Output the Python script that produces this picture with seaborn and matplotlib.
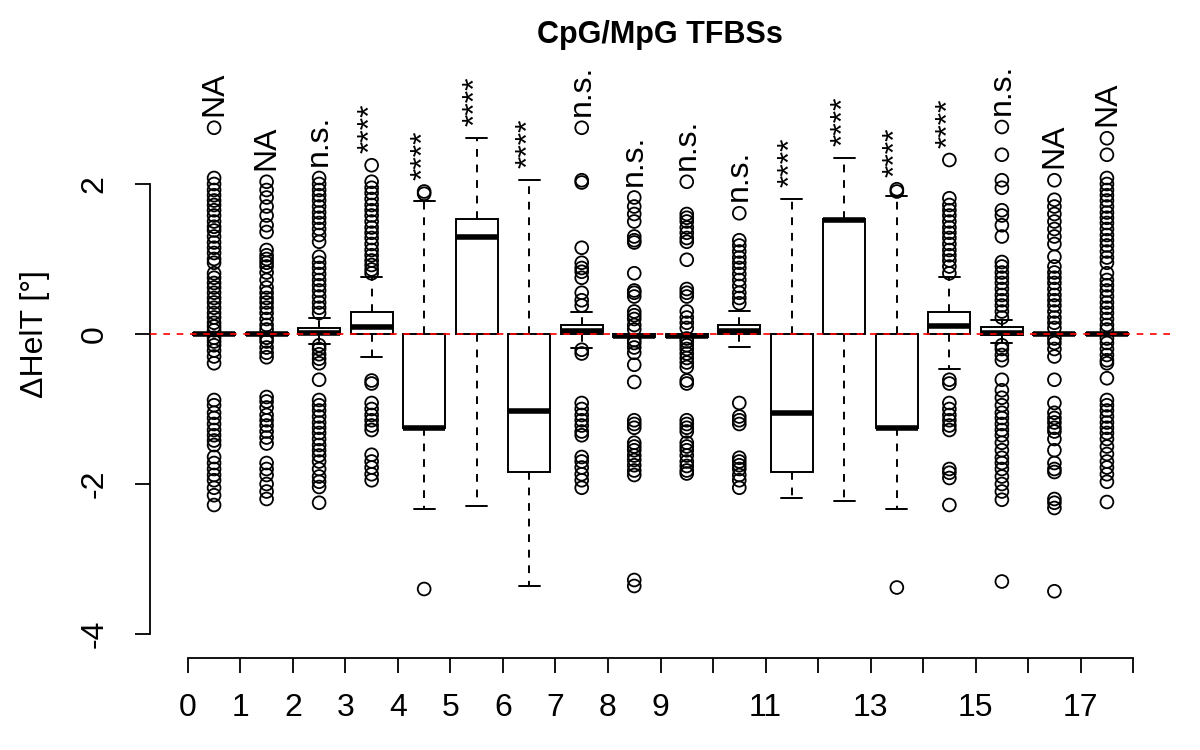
import numpy as np
import pandas as pd
import matplotlib
matplotlib.use("Agg")
import matplotlib.pyplot as plt
import seaborn as sns

# box statistics per group (lower whisker, q1, median, q3, upper whisker)
whisk_lo = [-0.01, -0.01, -0.13, -0.30, -2.33, -2.30, -3.36, -0.18, -0.04,
            -0.04, -0.17, -2.18, -2.22, -2.34, -0.47, -0.12, -0.01, -0.01]
q1 = [-0.01, -0.01, -0.005, 0.0, -1.25, 0.0, -1.84, 0.0, -0.04,
      -0.04, 0.0, -1.84, 0.0, -1.25, 0.0, -0.01, -0.01, -0.01]
medians = [0.0, 0.0, 0.01, 0.10, -1.25, 1.29, -1.03, 0.04, -0.02,
           -0.02, 0.04, -1.05, 1.52, -1.25, 0.11, 0.02, 0.0, 0.0]
q3 = [0.01, 0.01, 0.08, 0.30, 0.0, 1.54, 0.0, 0.12, 0.0,
      0.0, 0.12, 0.0, 1.54, 0.0, 0.30, 0.09, 0.01, 0.01]
whisk_hi = [0.01, 0.01, 0.21, 0.76, 1.77, 2.61, 2.06, 0.30, 0.0,
            0.0, 0.31, 1.80, 2.35, 1.84, 0.76, 0.19, 0.01, 0.01]

# outliers per group
outliers = [
    [2.75, 2.08, 2.0, 1.92, 1.85, 1.78, 1.72, 1.65, 1.58, 1.5, 1.43, 1.38, 1.3, 1.22,
     1.15, 1.08, 1.0, 0.95, 0.81, 0.75, 0.68, 0.62, 0.55, 0.48, 0.42, 0.35, 0.28, 0.22,
     0.15, 0.1, 0.05, -0.05, -0.1, -0.15, -0.22, -0.3, -0.39, -0.88, -0.95, -1.05,
     -1.12, -1.2, -1.28, -1.35, -1.42, -1.48, -1.64, -1.72, -1.8, -1.88, -1.95, -2.05,
     -2.15, -2.28],
    [2.03, 1.92, 1.82, 1.7, 1.58, 1.45, 1.36, 1.12, 1.05, 1.0, 0.95, 0.9, 0.82, 0.72,
     0.62, 0.55, 0.48, 0.42, 0.35, 0.28, 0.2, 0.12, 0.06, -0.05, -0.1, -0.18, -0.25,
     -0.31, -0.84, -0.9, -0.98, -1.08, -1.15, -1.22, -1.3, -1.38, -1.46, -1.72, -1.8,
     -1.88, -2.0, -2.1, -2.2],
    [2.08, 2.0, 1.92, 1.85, 1.78, 1.7, 1.62, 1.55, 1.48, 1.4, 1.32, 1.23, 1.03, 0.95,
     0.88, 0.8, 0.72, 0.65, 0.58, 0.5, 0.42, 0.35, 0.28, -0.15, -0.2, -0.27, -0.33,
     -0.39, -0.61, -0.88, -0.95, -1.02, -1.1, -1.18, -1.25, -1.32, -1.4, -1.48, -1.55,
     -1.62, -1.7, -1.8, -1.9, -1.97, -2.04, -2.25],
    [2.25, 2.03, 1.95, 1.88, 1.8, 1.72, 1.65, 1.58, 1.5, 1.42, 1.35, 1.28, 1.2, 1.12,
     1.05, 0.98, 0.92, 0.86, 0.81, -0.62, -0.66, -0.92, -1.0, -1.08, -1.15, -1.22,
     -1.28, -1.61, -1.7, -1.78, -1.87, -1.95],
    [1.9, 1.87, -3.4],
    [],
    [],
    [2.75, 2.05, 2.02, 1.15, 0.95, 0.88, 0.83, 0.75, 0.55, 0.45, 0.38, -0.21, -0.26,
     -0.92, -1.0, -1.08, -1.15, -1.22, -1.3, -1.35, -1.64, -1.7, -1.78, -1.87, -1.95,
     -2.05],
    [1.82, 1.7, 1.6, 1.5, 1.3, 1.25, 1.22, 0.81, 0.58, 0.55, 0.5, 0.3, 0.25, 0.2, 0.12,
     0.06, -0.08, -0.12, -0.18, -0.25, -0.41, -0.64, -1.15, -1.2, -1.25, -1.45, -1.5,
     -1.55, -1.62, -1.68, -1.75, -1.82, -1.88, -3.28, -3.36],
    [2.03, 1.6, 1.55, 1.5, 1.42, 1.35, 1.28, 1.23, 0.99, 0.6, 0.55, 0.5, 0.3, 0.22,
     0.15, 0.08, -0.06, -0.1, -0.15, -0.2, -0.26, -0.32, -0.38, -0.44, -0.62, -0.66,
     -1.15, -1.2, -1.25, -1.3, -1.45, -1.5, -1.55, -1.62, -1.7, -1.76, -1.82, -1.86],
    [1.61, 1.25, 1.18, 1.1, 1.02, 0.95, 0.88, 0.8, 0.72, 0.64, 0.55, 0.48, 0.41, -0.92,
     -1.1, -1.15, -1.2, -1.65, -1.7, -1.75, -1.8, -1.88, -1.95, -2.05],
    [],
    [],
    [1.93, 1.9, -3.38],
    [2.32, 1.81, 1.72, 1.65, 1.58, 1.5, 1.42, 1.35, 1.28, 1.2, 1.12, 1.05, 0.98, 0.9,
     0.81, -0.61, -0.66, -0.92, -1.0, -1.08, -1.15, -1.22, -1.28, -1.8, -1.85, -1.92,
     -2.28],
    [2.76, 2.39, 2.05, 1.95, 1.65, 1.58, 1.45, 1.3, 0.96, 0.9, 0.82, 0.75, 0.68, 0.6,
     0.52, 0.45, 0.38, 0.3, 0.22, -0.15, -0.2, -0.28, -0.35, -0.61, -0.75, -0.85, -0.95,
     -1.05, -1.12, -1.2, -1.28, -1.35, -1.45, -1.55, -1.65, -1.72, -1.8, -1.9, -2.0,
     -2.1, -2.21, -3.3],
    [2.05, 1.79, 1.7, 1.6, 1.5, 1.4, 1.3, 1.2, 1.03, 0.9, 0.82, 0.75, 0.68, 0.6, 0.52,
     0.45, 0.38, 0.3, 0.22, 0.15, 0.08, -0.06, -0.12, -0.2, -0.3, -0.61, -0.92, -1.05,
     -1.12, -1.18, -1.25, -1.3, -1.4, -1.55, -1.72, -1.8, -1.84, -2.2, -2.25, -2.32,
     -3.43],
    [2.61, 2.39, 2.08, 2.0, 1.92, 1.85, 1.78, 1.7, 1.62, 1.55, 1.48, 1.4, 1.32, 1.25,
     1.18, 1.1, 1.02, 0.95, 0.81, 0.72, 0.65, 0.58, 0.5, 0.42, 0.35, 0.28, 0.2, 0.12,
     0.06, -0.06, -0.12, -0.2, -0.28, -0.35, -0.39, -0.59, -0.88, -0.95, -1.02, -1.1,
     -1.18, -1.25, -1.32, -1.4, -1.5, -1.6, -1.7, -1.78, -1.87, -1.97, -2.24],
]

signif = ["NA", "NA", "n.s.", "****", "****", "****", "****", "n.s.", "n.s.",
          "n.s.", "n.s.", "****", "****", "****", "****", "n.s.", "NA", "NA"]

n = len(medians)
positions = [i + 0.5 for i in range(n)]

box_rows = []
for i in range(n):
    for v in [whisk_lo[i], q1[i], medians[i], q3[i], whisk_hi[i]]:
        box_rows.append({"pos": positions[i], "val": v})
box_df = pd.DataFrame(box_rows)

out_rows = []
for i in range(n):
    for v in outliers[i]:
        out_rows.append({"pos": positions[i], "val": v})
out_df = pd.DataFrame(out_rows)

sns.set_style("white")
plt.rcParams["font.family"] = ["Liberation Sans", "DejaVu Sans"]
plt.rcParams["text.color"] = "black"
plt.rcParams["axes.labelcolor"] = "black"
plt.rcParams["xtick.color"] = "black"
plt.rcParams["ytick.color"] = "black"
fs = 23

fig = plt.figure(figsize=(12, 7.5), dpi=100)
ax = fig.add_axes([150 / 1200, 92 / 750, 1021 / 1200, 648 / 750])

sns.boxplot(data=box_df, x="pos", y="val", orient="x", native_scale=True,
            whis=(0, 100), width=0.8, color="white", linecolor="black",
            linewidth=1.4, showfliers=False,
            whiskerprops=dict(linestyle=(0, (4, 4))),
            medianprops=dict(linewidth=4),
            ax=ax)

sns.scatterplot(data=out_df, x="pos", y="val", marker="o", s=85,
                facecolor="none", edgecolor="black", linewidth=1.3,
                legend=False, ax=ax, zorder=3)

ax.axhline(0, color="red", linestyle=(0, (4, 4)), linewidth=1.2, zorder=5)

# significance labels above each group
for i in range(n):
    top = max([whisk_hi[i]] + outliers[i])
    ax.text(positions[i], top + 0.16, signif[i], rotation=90, ha="center",
            va="bottom", fontsize=fs, color="black")

ax.set_xlim(-0.72, 18.72)
ax.set_ylim(-4.32, 4.32)

xt = list(range(19))
xl = [str(t) if (t <= 9 or t % 2 == 1) else "" for t in xt]
ax.set_xticks(xt)
ax.set_xticklabels(xl)
ax.set_yticks([-4, -2, 0, 2])
ax.set_yticklabels(["-4", "-2", "0", "2"], rotation=90, va="center")

for s in ["top", "right"]:
    ax.spines[s].set_visible(False)
ax.spines["left"].set_bounds(-4, 2)
ax.spines["bottom"].set_bounds(0, 18)
for s in ["left", "bottom"]:
    ax.spines[s].set_color("black")
    ax.spines[s].set_linewidth(1.3)

ax.tick_params(axis="both", direction="out", length=11, width=1.3,
               colors="black", labelsize=fs, left=True, bottom=True)
ax.tick_params(axis="y", pad=18)
ax.tick_params(axis="x", pad=14)

ax.set_xlabel("")
ax.set_ylabel("ΔHelT [°]", fontsize=fs, color="black")
ax.yaxis.set_label_coords(-0.098, 0.5)

fig.text(660 / 1200, 1 - 35 / 750, "CpG/MpG TFBSs", ha="center", va="center",
         fontsize=22, fontweight="bold", color="black")

fig.savefig("out.png", dpi=100)
